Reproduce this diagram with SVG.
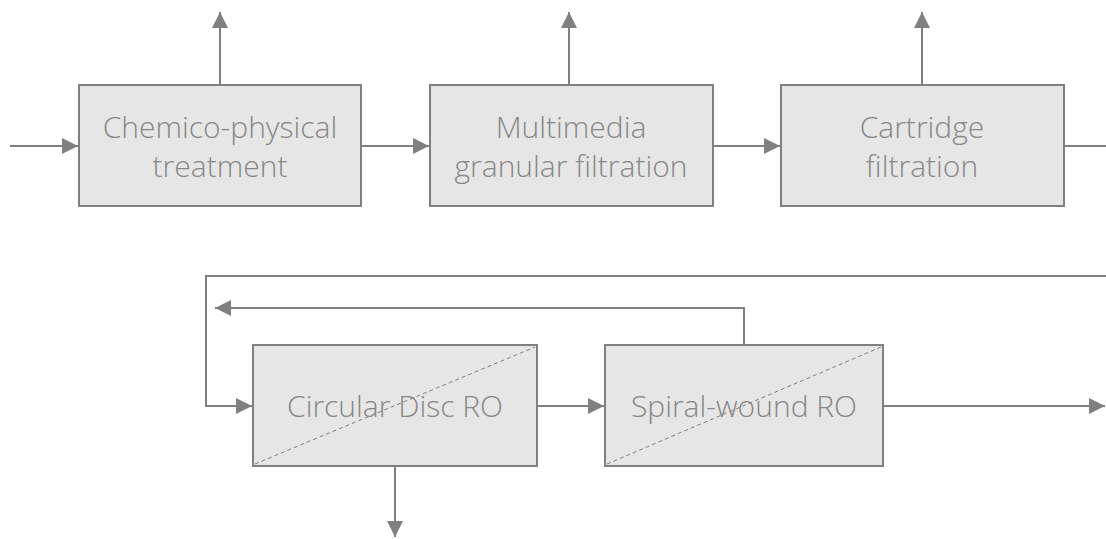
<svg xmlns="http://www.w3.org/2000/svg" width="1106" height="539" viewBox="0 0 1106 539">
<defs>
<marker id="ah" viewBox="0 0 10 10" refX="10" refY="5" markerWidth="8" markerHeight="8" markerUnits="strokeWidth" orient="auto">
<path d="M0,0 L10,5 L0,10 Z" fill="#808080"/>
</marker>
<style>
.box{fill:#e6e6e6;stroke:#808080;stroke-width:2}
.diag{stroke:#808080;stroke-width:1;stroke-dasharray:4,3;fill:none}
.lbl{font-family:"Open Sans","Segoe UI","Liberation Sans",sans-serif;font-weight:300;font-size:30px;fill:#888888;text-anchor:middle}
.con{stroke:#808080;stroke-width:2;fill:none}
</style>
</defs>
<rect width="1106" height="539" fill="#ffffff"/>
<g id="connectors">
<path class="con" d="M220,85 V12" marker-end="url(#ah)"/>
<path class="con" d="M569,85 V12" marker-end="url(#ah)"/>
<path class="con" d="M922,85 V12" marker-end="url(#ah)"/>
<path class="con" d="M10,146 H78" marker-end="url(#ah)"/>
<path class="con" d="M361,146 H429" marker-end="url(#ah)"/>
<path class="con" d="M713,146 H780" marker-end="url(#ah)"/>
<path class="con" d="M1064,146 H1106"/>
<path class="con" d="M1106,276 H206 V406 H252" marker-end="url(#ah)"/>
<path class="con" d="M744,345 V308 H215" marker-end="url(#ah)"/>
<path class="con" d="M537,406 H604" marker-end="url(#ah)"/>
<path class="con" d="M883,406 H1105" marker-end="url(#ah)"/>
<path class="con" d="M395,467 V537" marker-end="url(#ah)"/>
</g>
<g id="node-chemico">
<rect class="box" x="79" y="85" width="282" height="121"/>
<text class="lbl" x="220" y="138">Chemico-physical</text>
<text class="lbl" x="220" y="177">treatment</text>
</g>
<g id="node-multimedia">
<rect class="box" x="430" y="85" width="283" height="121"/>
<text class="lbl" x="571" y="138">Multimedia</text>
<text class="lbl" x="571" y="177">granular filtration</text>
</g>
<g id="node-cartridge">
<rect class="box" x="781" y="85" width="283" height="121"/>
<text class="lbl" x="922" y="138">Cartridge</text>
<text class="lbl" x="922" y="177">filtration</text>
</g>
<g id="node-disc">
<rect class="box" x="253" y="345" width="284" height="121"/>
<line class="diag" x1="255" y1="464" x2="535" y2="347"/>
<text class="lbl" x="395" y="417">Circular Disc RO</text>
</g>
<g id="node-spiral">
<rect class="box" x="605" y="345" width="278" height="121"/>
<line class="diag" x1="607" y1="464" x2="881" y2="347"/>
<text class="lbl" x="744" y="417">Spiral-wound RO</text>
</g>
</svg>
